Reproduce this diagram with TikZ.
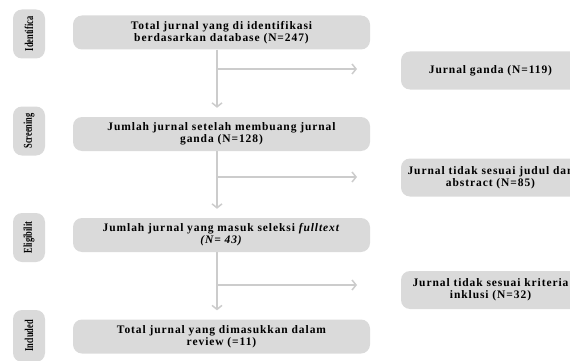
\documentclass[tikz,border=0pt]{standalone}
\usepackage{fontspec}
\setmainfont{Liberation Serif}
\usetikzlibrary{arrows.meta}
\definecolor{boxgray}{HTML}{DADADA}
\definecolor{linegray}{HTML}{CCCCCC}
\newfontfamily\spacedfont[LetterSpace=8]{Liberation Serif}
\newcommand{\narrow}[1]{\scalebox{0.7}[1]{#1}}
\begin{document}
\begin{tikzpicture}[x=1pt,y=-1pt,
	stagebox/.style={fill=boxgray,rounded corners=9pt,minimum width=32pt,minimum height=49pt,inner sep=0pt},
	stagetext/.style={rotate=90,font=\fontsize{12}{12}\selectfont\bfseries},
	mainbox/.style={fill=boxgray,rounded corners=9pt,minimum width=297pt,minimum height=34pt,align=center,font=\spacedfont\fontsize{11.5}{12}\selectfont\bfseries},
	sidebox/.style={fill=boxgray,rounded corners=9pt,minimum width=179pt,minimum height=38pt,align=center,font=\spacedfont\fontsize{11.5}{12}\selectfont\bfseries},
	flow/.style={draw=linegray,line width=1.5pt,-{Straight Barb[length=4pt,width=10pt]}}]
		\useasboundingbox (0,0) rectangle (570,361);
		\clip (0,0) rectangle (570,361);
		% stages
		\node[stagebox] (l1) at (29,34) {};
		\node[stagetext] at (l1) {\narrow{Identifica}};
		\node[stagebox] (l2) at (29,131) {};
		\node[stagetext] at (l2) {\narrow{Screening}};
		\node[stagebox] (l3) at (29,237.5) {};
		\node[stagetext] at (l3) {\narrow{Eligibilit}};
		\node[stagebox,minimum height=52pt] (l4) at (29,336) {};
		\node[stagetext] at (l4) {\narrow{Included}};
		% main column
		\node[mainbox] (b1) at (221.5,32.5) {Total jurnal yang di identifikasi\\berdasarkan database (N=247)};
		\node[mainbox] (b2) at (221.5,134) {Jumlah jurnal setelah membuang jurnal\\ganda (N=128)};
		\node[mainbox] (b3) at (221.5,235) {Jumlah jurnal yang masuk seleksi \textit{fulltext}\\\textit{(N= 43)}};
		\node[mainbox] (b4) at (221.5,336.5) {Total jurnal yang dimasukkan dalam\\review (=11)};
		% excluded
		\node[sidebox] (r1) at (490.5,70.5) {Jurnal ganda (N=119)};
		\node[sidebox] (r2) at (490.5,177.5) {Jurnal tidak sesuai judul dan\\abstract (N=85)};
		\node[sidebox] (r3) at (490.5,290) {Jurnal tidak sesuai kriteria\\inklusi (N=32)};
		\coordinate (j1) at (217,69);
		\coordinate (j2) at (217,177);
		\coordinate (j3) at (217,285);
		\coordinate (e1) at (357,69);
		\coordinate (e2) at (357,177);
		\coordinate (e3) at (357,285);
		\draw[flow,shorten >=9pt] (b1.south-|j1) -- (b2.north-|j1);
		\draw[flow,shorten >=9pt] (b2.south-|j2) -- (b3.north-|j2);
		\draw[flow,shorten >=9pt] (b3.south-|j3) -- (b4.north-|j3);
		\draw[flow] (j1) -- (e1);
		\draw[flow] (j2) -- (e2);
		\draw[flow] (j3) -- (e3);
\end{tikzpicture}
\end{document}
